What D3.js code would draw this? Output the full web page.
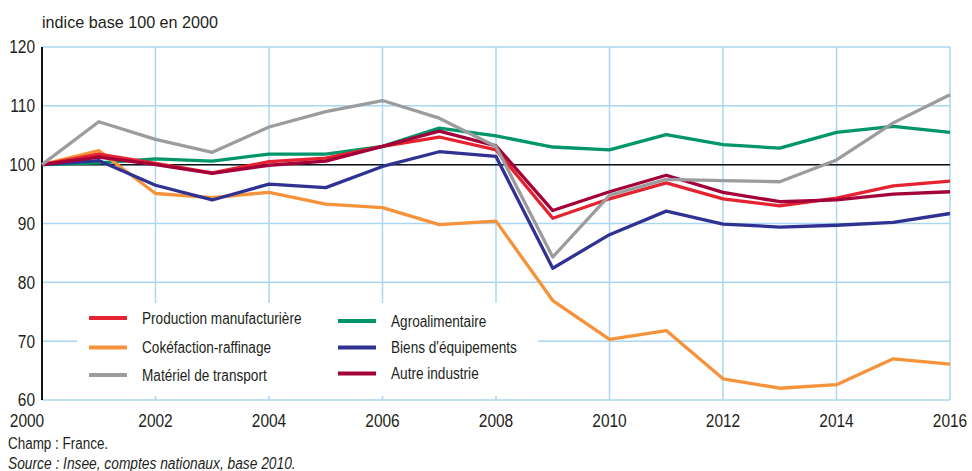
<!DOCTYPE html>
<html>
<head>
<meta charset="utf-8">
<script src="https://cdn.jsdelivr.net/npm/d3@7"></script>
<style>
body { margin: 0; background: #fff; }
text { font-family: "Liberation Sans", Arial, sans-serif; fill: #231f20; }
</style>
</head>
<body>
<div id="graph"></div>
<script>
// indice base 100 en 2000
var years = [2000, 2001, 2002, 2003, 2004, 2005, 2006, 2007, 2008, 2009, 2010, 2011, 2012, 2013, 2014, 2015, 2016]
var xTicks = [2000, 2002, 2004, 2006, 2008, 2010, 2012, 2014, 2016]
var yTicks = [60, 70, 80, 90, 100, 110, 120]

var production = [100, 101.8, 100.2, 98.6, 100.5, 101.1, 103.1, 104.7, 102.5, 90.9, 94.2, 96.9, 94.2, 93.0, 94.3, 96.4, 97.2]
var coke = [100, 102.4, 95.1, 94.4, 95.3, 93.3, 92.7, 89.8, 90.4, 76.9, 70.3, 71.8, 63.6, 62.0, 62.6, 67.0, 66.1]
var transport = [100, 107.3, 104.3, 102.1, 106.4, 109.0, 110.9, 107.9, 103.1, 84.3, 94.8, 97.5, 97.3, 97.1, 100.8, 107.1, 111.9]
var agro = [100, 100.3, 101.0, 100.6, 101.8, 101.8, 103.1, 106.2, 104.9, 103.0, 102.5, 105.1, 103.4, 102.8, 105.5, 106.5, 105.5]
var equip = [100, 100.7, 96.5, 94.0, 96.7, 96.1, 99.7, 102.2, 101.4, 82.4, 88.1, 92.1, 89.9, 89.4, 89.7, 90.2, 91.7]
var autre = [100, 101.3, 100.0, 98.5, 99.9, 100.6, 103.1, 105.7, 103.2, 92.2, 95.4, 98.2, 95.3, 93.7, 94.0, 95.0, 95.4]

var series = [
  {name: 'Production manufacturière', values: production, color: '#e52330'},
  {name: 'Cokéfaction-raffinage', values: coke, color: '#f6923a'},
  {name: 'Matériel de transport', values: transport, color: '#9c9c9e'},
  {name: 'Agroalimentaire', values: agro, color: '#00966a'},
  {name: "Biens d'équipements", values: equip, color: '#2f3292'},
  {name: 'Autre industrie', values: autre, color: '#a3003a'}
]
// drawing order (bottom to top)
var drawOrder = ['Agroalimentaire', 'Cokéfaction-raffinage', "Biens d'équipements", 'Production manufacturière', 'Autre industrie', 'Matériel de transport']

var width = 972, height = 471
var margin = {top: 47, left: 42, right: 22, bottom: 71}

var svg = d3.select('#graph').append('svg')
  .attr('width', width)
  .attr('height', height)

var x = d3.scaleLinear().domain([2000, 2016]).range([margin.left, width - margin.right])
var y = d3.scaleLinear().domain([60, 120]).range([height - margin.bottom, margin.top])

var gridColor = '#abd6f1'

// the original font is a condensed grotesque: squeeze Liberation Sans to match
function squeeze(sel, k){
  sel.each(function(){
    var w = this.getComputedTextLength()
    d3.select(this)
      .attr('textLength', w * k)
      .attr('lengthAdjust', 'spacingAndGlyphs')
  })
}

// grid
svg.append('g')
  .selectAll('line')
  .data(yTicks)
  .join('line')
  .attr('x1', x(2000)).attr('x2', x(2016))
  .attr('y1', d => y(d)).attr('y2', d => y(d))
  .attr('stroke', gridColor)
  .attr('stroke-width', 1.5)

svg.append('g')
  .selectAll('line')
  .data(xTicks.slice(1))
  .join('line')
  .attr('x1', d => x(d)).attr('x2', d => x(d))
  .attr('y1', y(120)).attr('y2', y(60))
  .attr('stroke', gridColor)
  .attr('stroke-width', 1.5)

// base 100 line
svg.append('line')
  .attr('x1', x(2000)).attr('x2', x(2016))
  .attr('y1', y(100)).attr('y2', y(100))
  .attr('stroke', '#111')
  .attr('stroke-width', 1.5)

// y axis line
svg.append('line')
  .attr('x1', x(2000)).attr('x2', x(2000))
  .attr('y1', y(120)).attr('y2', y(60))
  .attr('stroke', '#111')
  .attr('stroke-width', 2)

// legend box (white, hides the grid)
svg.append('rect')
  .attr('x', 77).attr('y', 303)
  .attr('width', 461).attr('height', 93)
  .attr('fill', '#fff')

// lines
var line = d3.line()
  .x((d, i) => x(years[i]))
  .y(d => y(d))

var byName = {}
series.forEach(s => byName[s.name] = s)

svg.append('g')
  .selectAll('path')
  .data(drawOrder.map(n => byName[n]))
  .join('path')
  .attr('d', d => line(d.values))
  .attr('fill', 'none')
  .attr('stroke', d => d.color)
  .attr('stroke-width', 3.3)
  .attr('stroke-linejoin', 'round')

// legend
var legPos = [
  [89, 318], [89, 347.5], [89, 375],
  [338, 321], [338, 347.5], [338, 373.5]
]
var leg = svg.append('g')
  .selectAll('g')
  .data(series)
  .join('g')
  .attr('transform', (d, i) => 'translate(' + legPos[i][0] + ',' + legPos[i][1] + ')')

leg.append('line')
  .attr('x1', 0).attr('x2', 38)
  .attr('stroke', d => d.color)
  .attr('stroke-width', 4)

leg.append('text')
  .attr('x', 53)
  .attr('dy', '0.35em')
  .style('font-size', '16px')
  .text(d => d.name)
  .call(squeeze, 0.85)

// y tick labels
svg.append('g')
  .selectAll('text')
  .data(yTicks)
  .join('text')
  .attr('x', 35)
  .attr('y', d => y(d))
  .attr('dy', '0.36em')
  .attr('text-anchor', 'end')
  .style('font-size', '18px')
  .text(d => d)
  .call(squeeze, 0.86)

// x tick labels
svg.append('g')
  .selectAll('text')
  .data(xTicks)
  .join('text')
  .attr('x', d => d === 2000 ? x(d) - 15 : x(d))
  .attr('y', 426.5)
  .attr('text-anchor', 'middle')
  .style('font-size', '18px')
  .text(d => d)
  .call(squeeze, 0.86)

// subtitle
svg.append('text')
  .attr('x', 42).attr('y', 27.5)
  .style('font-size', '17px')
  .text('indice base 100 en 2000')
  .call(squeeze, 0.95)

// notes
svg.append('text')
  .attr('x', 8).attr('y', 449)
  .style('font-size', '16px')
  .text('Champ : France.')
  .call(squeeze, 0.84)

svg.append('text')
  .attr('x', 8).attr('y', 469)
  .style('font-size', '16px')
  .style('font-style', 'italic')
  .text('Source : Insee, comptes nationaux, base 2010.')
  .call(squeeze, 0.86)
</script>
</body>
</html>
